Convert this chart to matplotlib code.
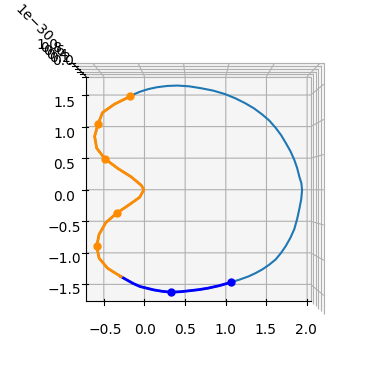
import numpy as np
from matplotlib import pyplot as plt

# outer curve, clockwise from the top orange dot down to the bottom-left junction
curve_x = [-0.175, -0.115, -0.054, 0.05, 0.155, 0.28, 0.405, 0.55, 0.696, 0.845,
           0.988, 1.115, 1.238, 1.345, 1.446, 1.535, 1.613, 1.68, 1.738, 1.795,
           1.843, 1.878, 1.905, 1.93, 1.938, 1.927, 1.905, 1.878, 1.843, 1.795,
           1.738, 1.68, 1.613, 1.532, 1.446, 1.365, 1.28, 1.17, 1.059, 0.92,
           0.78, 0.675, 0.571, 0.45, 0.33, 0.22, 0.113, -0.054, -0.138, -0.288]
curve_y = [1.479, 1.52, 1.553, 1.595, 1.624, 1.644, 1.650, 1.638, 1.608, 1.57,
           1.516, 1.45, 1.371, 1.29, 1.194, 1.095, 0.981, 0.865, 0.740, 0.61,
           0.471, 0.34, 0.203, 0.1, -0.01, -0.155, -0.30, -0.46, -0.622, -0.76,
           -0.891, -1.0, -1.105, -1.19, -1.265, -1.322, -1.373, -1.424, -1.469, -1.52,
           -1.56, -1.582, -1.598, -1.615, -1.624, -1.61, -1.587, -1.534, -1.486, -1.378]

# orange wiggle, bottom-left junction up to the top dot
orange_x = [-0.288, -0.454, -0.558, -0.588, -0.558, -0.475, -0.341, -0.204, -0.058,
            -0.008, -0.038, -0.163, -0.329, -0.488, -0.588, -0.613, -0.57, -0.516,
            -0.37, -0.175]
orange_y = [-1.378, -1.244, -1.084, -0.896, -0.707, -0.521, -0.37, -0.252, -0.119,
            0.0, 0.069, 0.203, 0.338, 0.492, 0.659, 0.846, 1.045, 1.222, 1.355, 1.479]
orange_dots_x = [-0.588, -0.341, -0.488, -0.57, -0.175]
orange_dots_y = [-0.896, -0.37, 0.492, 1.045, 1.479]

# dark blue bottom segment
seg_x = [-0.288, -0.138, -0.054, 0.113, 0.22, 0.33, 0.45, 0.571, 0.675, 0.78, 0.92, 1.059]
seg_y = [-1.378, -1.486, -1.534, -1.587, -1.61, -1.624, -1.615, -1.598, -1.582, -1.56,
         -1.52, -1.469]
blue_dots_x = [0.33, 1.059]
blue_dots_y = [-1.624, -1.469]

x_ticks = [-0.5, 0.0, 0.5, 1.0, 1.5, 2.0]
y_ticks = [-1.5, -1.0, -0.5, 0.0, 0.5, 1.0, 1.5]

fig = plt.figure(figsize=(3.89, 3.89), dpi=100)
ax = fig.add_axes([0.112, 0.119, 0.775, 0.77], projection='3d')

full_x = curve_x + orange_x[1:]
full_y = curve_y + orange_y[1:]
ax.plot(full_x, full_y, np.zeros(len(full_x)), color='tab:blue', lw=1.5)
ax.plot(seg_x, seg_y, np.zeros(len(seg_x)), color='blue', lw=2)
ax.plot(blue_dots_x, blue_dots_y, np.zeros(2), 'o', color='blue', ms=5)
ax.plot(orange_x, orange_y, np.zeros(len(orange_x)), color='darkorange', lw=2)
ax.plot(orange_dots_x, orange_dots_y, np.zeros(len(orange_dots_x)), 'o',
        color='darkorange', ms=5)

ax.margins(x=0.02, y=0.022)
ax.set_xticks(x_ticks)
ax.set_yticks(y_ticks)
ax.set_zlim(0, 1e-30)
ax.set_box_aspect(None, zoom=1.23)
ax.view_init(elev=90, azim=-90)

fig.savefig('out.png')
